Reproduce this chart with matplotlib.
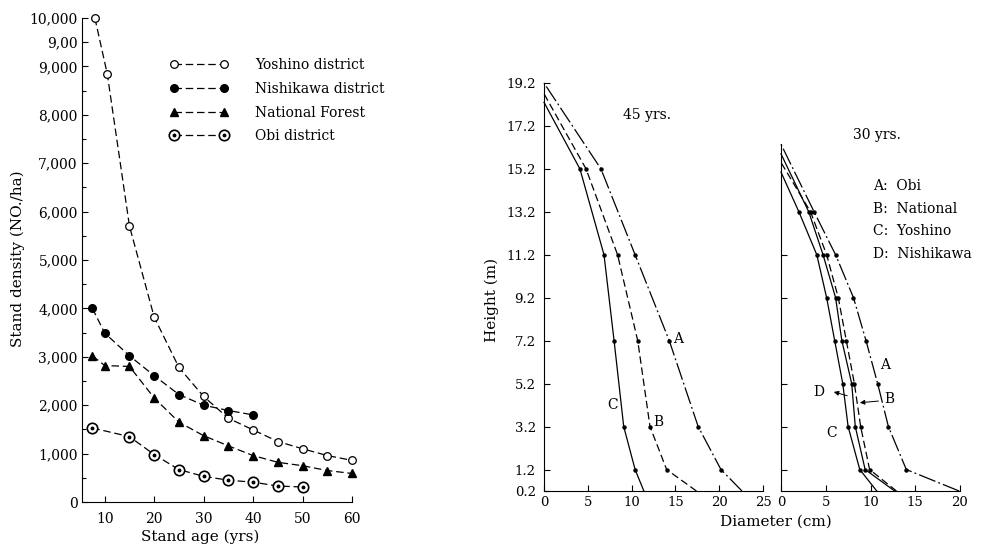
import matplotlib.pyplot as plt
from matplotlib.legend_handler import HandlerTuple

plt.rcParams['font.family'] = 'DejaVu Serif'

# --- stand density (NO./ha) against stand age (yrs) ---
age_yoshino = [8, 10.5, 15, 20, 25, 30, 35, 40, 45, 50, 55, 60]
dens_yoshino = [10000, 8850, 5700, 3820, 2780, 2180, 1730, 1490, 1250, 1100, 960, 860]
age_nishikawa = [7.5, 10, 15, 20, 25, 30, 35, 40]
dens_nishikawa = [4000, 3490, 3020, 2610, 2220, 2000, 1890, 1800]
age_national = [7.5, 10, 15, 20, 25, 30, 35, 40, 45, 50, 55, 60]
dens_national = [3020, 2820, 2800, 2150, 1650, 1370, 1160, 960, 820, 750, 650, 590]
age_obi = [7.5, 15, 20, 25, 30, 35, 40, 45, 50]
dens_obi = [1530, 1350, 980, 670, 530, 450, 410, 330, 310]

legend_labels = ['Yoshino district', 'Nishikawa district', 'National Forest', 'Obi district']
dens_ticks = [0, 1000, 2000, 3000, 4000, 5000, 6000, 7000, 8000, 9000, 9500, 10000]
dens_ticklabels = ['0', '1,000', '2,000', '3,000', '4,000', '5,000', '6,000',
                   '7,000', '8,000', '9,000', '9,00', '10,000']
dens_minor = [500, 1500, 2500, 3500, 4500, 5500, 6500, 7500, 8500]
age_ticks = [10, 20, 30, 40, 50, 60]

# --- stem profiles: diameter (cm) at each height (m) ---
h45 = [0.2, 1.2, 3.2, 7.2, 11.2, 15.2]
d45_A = [22.6, 20.2, 17.6, 14.3, 10.4, 6.5]
d45_B = [17.4, 14.0, 12.1, 10.7, 8.4, 4.8]
d45_C = [11.4, 10.4, 9.1, 8.0, 6.85, 4.1]
top45 = {'A': 19.2, 'B': 18.7, 'C': 18.3}

h30 = [0.2, 1.2, 3.2, 5.2, 7.2, 9.2, 11.2, 13.2]
d30_A = [19.9, 14.0, 12.0, 10.8, 9.5, 8.1, 6.1, 3.7]
d30_B = [12.9, 9.9, 8.9, 8.2, 7.3, 6.4, 5.1, 3.3]
d30_C = [10.7, 8.8, 7.5, 6.9, 6.0, 5.1, 4.0, 2.0]
d30_D = [12.7, 9.4, 8.3, 7.9, 6.8, 6.1, 4.7, 3.1]
top30 = {'A': 16.35, 'B': 15.5, 'C': 15.05, 'D': 15.9}

height_ticks = [0.2, 1.2, 3.2, 5.2, 7.2, 9.2, 11.2, 13.2, 15.2, 17.2, 19.2]

fig = plt.figure(figsize=(9.86, 5.52), dpi=100)
ax1 = fig.add_axes([82/986, 1-502/552, 270/986, 484/552])
ax2 = fig.add_axes([544/986, 1-491/552, 219/986, 408/552])
ax3 = fig.add_axes([781/986, 1-491/552, 179/986, 408/552])

# left chart
kw = dict(color='black', lw=0.9, ls=(0, (6, 3)), clip_on=False)
hy, = ax1.plot(age_yoshino, dens_yoshino, marker='o', ms=5.5, mfc='white', mec='black', mew=0.9, **kw)
hn, = ax1.plot(age_nishikawa, dens_nishikawa, marker='o', ms=5.5, mfc='black', mec='black', **kw)
ht, = ax1.plot(age_national, dens_national, marker='^', ms=6, mfc='black', mec='black', **kw)
ho, = ax1.plot(age_obi, dens_obi, marker='o', ms=7.5, mfc='white', mec='black', mew=1.2, **kw)
hod, = ax1.plot(age_obi, dens_obi, ls='none', marker='o', ms=1.8, color='black', clip_on=False)

ax1.legend([hy, hn, ht, (ho, hod)], legend_labels,
           handler_map={tuple: HandlerTuple(ndivide=1)},
           loc='upper left', bbox_to_anchor=(0.326, 0.917), frameon=False,
           numpoints=2, handlelength=4.2, handletextpad=1.9, labelspacing=0.7,
           borderpad=0, borderaxespad=0, fontsize=10)

ax1.set_xlim(5.4, 60)
ax1.set_ylim(0, 10000)
ax1.set_xticks(age_ticks)
ax1.set_yticks(dens_ticks)
ax1.set_yticklabels(dens_ticklabels)
ax1.set_yticks(dens_minor, minor=True)
ax1.tick_params(axis='both', which='both', direction='in', width=0.8, labelsize=10)
ax1.tick_params(axis='y', which='major', length=4, pad=3)
ax1.tick_params(axis='y', which='minor', length=3)
ax1.tick_params(axis='x', length=4, pad=7)
fig.text(18/986, 1-259/552, 'Stand density (NO./ha)', rotation=90, ha='center', va='center', fontsize=11)
fig.text(200/986, 1-537/552, 'Stand age (yrs)', ha='center', va='center', fontsize=11)

# right chart
dashdot = (0, (14, 2.5, 1.5, 2.5))
dashed = (0, (6, 3))
for ax, h, curves, tops in [
        (ax2, h45, [('A', d45_A, dashdot), ('B', d45_B, dashed), ('C', d45_C, '-')], top45),
        (ax3, h30, [('A', d30_A, dashdot), ('B', d30_B, dashed), ('C', d30_C, '-'), ('D', d30_D, '-')], top30)]:
    for key, d, ls in curves:
        ax.plot(d + [0], h + [tops[key]], color='black', lw=0.9, ls=ls,
                marker='o', ms=2.2, markevery=list(range(1, len(h))), clip_on=False)

ax2.set_xlim(0, 25)
ax3.set_xlim(0, 20)
for ax in (ax2, ax3):
    ax.set_ylim(0.2, 19.2)
    ax.tick_params(axis='both', direction='in', length=4, width=0.8, labelsize=9.5)
    ax.tick_params(axis='x', pad=3.5)
ax2.set_xticks([0, 5, 10, 15, 20, 25])
ax2.set_yticks(height_ticks)
ax2.tick_params(axis='y', pad=6)
ax3.set_xticks([0, 5, 10, 15, 20])
ax3.set_yticks(height_ticks[1:7])
ax3.set_yticklabels([])
ax3.spines['left'].set_bounds(0.2, top30['A'])

ax2.text(15.3, 7.3, 'A', ha='center', va='center', fontsize=10)
ax2.text(13.1, 3.4, 'B', ha='center', va='center', fontsize=10)
ax2.text(7.8, 4.2, 'C', ha='center', va='center', fontsize=10)
ax2.text(11.8, 17.7, '45 yrs.', ha='center', va='center', fontsize=10)

ax3.text(11.6, 6.05, 'A', ha='center', va='center', fontsize=10)
ax3.text(12.1, 4.5, 'B', ha='center', va='center', fontsize=10)
ax3.text(5.7, 2.9, 'C', ha='center', va='center', fontsize=10)
ax3.text(4.2, 4.8, 'D', ha='center', va='center', fontsize=10)
ax3.text(10.7, 16.8, '30 yrs.', ha='center', va='center', fontsize=10)
ax3.annotate('', xy=(5.6, 4.85), xytext=(7.7, 4.6),
             arrowprops=dict(arrowstyle='-|>', color='black', lw=0.7, mutation_scale=7))
ax3.annotate('', xy=(8.5, 4.3), xytext=(11.2, 4.4),
             arrowprops=dict(arrowstyle='-|>', color='black', lw=0.7, mutation_scale=7))
for i, txt in enumerate(['A:  Obi', 'B:  National', 'C:  Yoshino', 'D:  Nishikawa']):
    ax3.text(10.3, 14.4 - i * 1.05, txt, ha='left', va='center', fontsize=10)

fig.text(492/986, 1-300/552, 'Height (m)', rotation=90, ha='center', va='center', fontsize=11)
fig.text(776/986, 1-522/552, 'Diameter (cm)', ha='center', va='center', fontsize=11)

for ax in (ax1, ax2, ax3):
    ax.spines['top'].set_visible(False)
    ax.spines['right'].set_visible(False)
    for s in ('left', 'bottom'):
        ax.spines[s].set_linewidth(0.8)
    ax.patch.set_alpha(0)

fig.savefig('out.png', dpi=100)
